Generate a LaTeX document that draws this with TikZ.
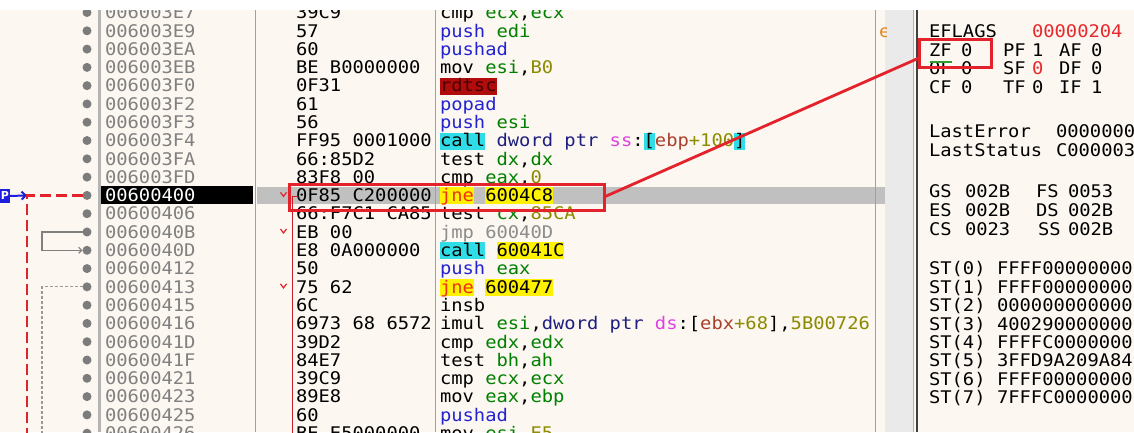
\documentclass[tikz,border=0pt]{standalone}
\usepackage{fontspec}
\usetikzlibrary{arrows.meta}
\newfontfamily\dbgmono[FakeStretch=1.08]{DejaVu Sans Mono}
\newfontfamily\dbgsans{DejaVu Sans}
\definecolor{panel}{HTML}{FCF7F0}
\definecolor{scrollg}{HTML}{EAEAEA}
\definecolor{selgray}{HTML}{C0C0C0}
\definecolor{adrgray}{HTML}{808080}
\definecolor{bulletg}{HTML}{7C7C7C}
\definecolor{sepg}{HTML}{A0A0A0}
\definecolor{barg}{HTML}{B4B4B4}
\definecolor{regg}{HTML}{008000}
\definecolor{pushb}{HTML}{2323D2}
\definecolor{navyc}{HTML}{1E1E80}
\definecolor{segm}{HTML}{E040E0}
\definecolor{numo}{HTML}{8C8A00}
\definecolor{memr}{HTML}{A8402A}
\definecolor{jner}{HTML}{F03010}
\definecolor{jmpg}{HTML}{8C8C8C}
\definecolor{rdbg}{HTML}{B00C0C}
\definecolor{rdtx}{HTML}{4A0000}
\definecolor{cyanbg}{HTML}{30DCE6}
\definecolor{yelbg}{HTML}{FFF200}
\definecolor{markred}{HTML}{E3222B}
\definecolor{eipblue}{HTML}{1E1EDC}
\definecolor{flagred}{HTML}{E8282E}
\definecolor{ulgreen}{HTML}{2E9E2E}
\definecolor{orng}{HTML}{E08A1E}
\newcommand\xG[1]{\textcolor{regg}{#1}}
\newcommand\xB[1]{\textcolor{pushb}{#1}}
\newcommand\xN[1]{\textcolor{navyc}{#1}}
\newcommand\xM[1]{\textcolor{segm}{#1}}
\newcommand\xO[1]{\textcolor{numo}{#1}}
\newcommand\xR[1]{\textcolor{memr}{#1}}
\newcommand\xJ[1]{\textcolor{jner}{#1}}
\newcommand\disrow[2]{\node[txt] (d#1) at (440,{18.8+18.29*#1}) {#2};}
\newcommand\hlbox[4]{\fill[#4] ({440+11.31*#2},{4.5+18.29*#1}) rectangle ({440+11.31*(#2+#3)},{21.5+18.29*#1});}
\begin{document}
\begin{tikzpicture}[x=1pt,y=-1pt,
  txt/.style={anchor=base west,inner sep=0pt,outer sep=0pt,font=\dbgmono\fontsize{17.4}{20}\selectfont},
  bullet/.style={circle,fill=bulletg,minimum size=9pt,inner sep=0pt,outer sep=0pt},
  redbox/.style={draw=markred,line width=3pt,inner sep=0pt,outer sep=0pt},
  redlink/.style={draw=markred,line width=2.8pt},
  reddash/.style={draw=markred,line width=2.6pt,dash pattern=on 11pt off 5pt},
  grayline/.style={draw=adrgray,line width=1.2pt},
  graydash/.style={draw=adrgray!80,line width=1.2pt,dash pattern=on 3pt off 2pt},
  jumpline/.style={draw=markred!90!black,line width=1.8pt},
  vmark/.style={draw=markred,line width=1.2pt},
  eiparrow/.style={draw=eipblue,line width=2pt,-{Straight Barb[length=4pt,width=8pt]}},
  eipbox/.style={fill=eipblue,minimum width=10pt,minimum height=14pt,inner sep=0pt,outer sep=0pt}]
\useasboundingbox (0,0) rectangle (1134,432);
% backgrounds
\fill[panel] (0,0) rectangle (1134,432);
\fill[scrollg] (885,10) rectangle (913.5,432);
\fill[selgray] (257,{12.5+18.29*10-8.5}) rectangle (885,{12.5+18.29*10+8.5});
\fill[black] (101,{12.5+18.29*10-9}) rectangle (253,{12.5+18.29*10+9});
% highlights
\hlbox{4}{0}{5}{rdbg}
\hlbox{7}{0}{4}{cyanbg}
\hlbox{7}{18}{1}{cyanbg}
\hlbox{7}{26}{1}{cyanbg}
\hlbox{10}{0}{3}{yelbg}
\hlbox{10}{4}{6}{yelbg}
\hlbox{13}{0}{4}{cyanbg}
\hlbox{13}{5}{6}{yelbg}
\hlbox{15}{0}{3}{yelbg}
\hlbox{15}{4}{6}{yelbg}
% separators
\draw[barg,line width=3pt] (99.5,10) -- (99.5,432);
\draw[sepg,line width=1pt] (255,10) -- (255,432);
\draw[sepg,line width=1pt] (435.5,10) -- (435.5,432);
\draw[sepg,line width=1pt] (875,10) -- (875,432);
\draw[sepg!80,line width=1pt] (913.5,10) -- (913.5,432);
\draw[black!75,line width=2pt] (917,10) -- (917,432);
% bullets
\foreach \i in {0,...,23} \node[bullet] (b\i) at (87,{12.5+18.29*\i}) {};
% addresses
\foreach \i/\a in {0/006003E7,1/006003E9,2/006003EA,3/006003EB,4/006003F0,5/006003F2,6/006003F3,7/006003F4,8/006003FA,9/006003FD,11/00600406,12/0060040B,13/0060040D,14/00600412,15/00600413,16/00600415,17/00600416,18/0060041D,19/0060041F,20/00600421,21/00600423,22/00600425,23/00600426}
  \node[txt,text=adrgray] (a\i) at (105,{18.8+18.29*\i}) {\a};
\node[txt,text=white] (a10) at (105,{18.8+18.29*10}) {00600400};
% bytes
\begin{scope}
\clip (256,0) rectangle (435,432);
\foreach \i/\b in {0/39C9,1/57,2/60,3/BE B0000000,4/0F31,5/61,6/56,7/FF95 0001000,8/66:85D2,9/83F8 00,10/0F85 C200000,11/66:F7C1 CA85,12/EB 00,13/E8 0A000000,14/50,15/75 62,16/6C,17/6973 68 6572,18/39D2,19/84E7,20/39C9,21/89E8,22/60,23/BE E5000000}
  \node[txt] (y\i) at (296,{18.8+18.29*\i}) {\b};
\end{scope}
% disassembly
\begin{scope}
\clip (437,0) rectangle (875,432);
\disrow{0}{cmp \xG{ecx},\xG{ecx}}
\disrow{1}{\xB{push} \xG{edi}}
\disrow{2}{\xB{pushad}}
\disrow{3}{mov \xG{esi},\xO{B0}}
\disrow{4}{\textcolor{rdtx}{rdtsc}}
\disrow{5}{\xB{popad}}
\disrow{6}{\xB{push} \xG{esi}}
\disrow{7}{call \xN{dword ptr} \xM{ss}:[\xR{ebp}\xO{+100}]}
\disrow{8}{test \xG{dx},\xG{dx}}
\disrow{9}{cmp \xG{eax},\xO{0}}
\disrow{10}{\xJ{jne} 6004C8}
\disrow{11}{test \xG{cx},\xO{85CA}}
\disrow{12}{\textcolor{jmpg}{jmp 60040D}}
\disrow{13}{call 60041C}
\disrow{14}{\xB{push} \xG{eax}}
\disrow{15}{\xJ{jne} 600477}
\disrow{16}{insb}
\disrow{17}{imul \xG{esi},\xN{dword ptr} \xM{ds}:[\xR{ebx}\xO{+68}],\xO{5B00726}}
\disrow{18}{cmp \xG{edx},\xG{edx}}
\disrow{19}{test \xG{bh},\xG{ah}}
\disrow{20}{cmp \xG{ecx},\xG{ecx}}
\disrow{21}{mov \xG{eax},\xG{ebp}}
\disrow{22}{\xB{pushad}}
\disrow{23}{mov \xG{esi},\xO{E5}}
\end{scope}
\begin{scope}
\clip (876,20) rectangle (886,45);
\node[txt,text=orng] (oe) at (879,37) {e};
\end{scope}
% registers
\begin{scope}
\clip (918,10) rectangle (1134,432);
\node[txt] (rEF) at (929,37.3) {EFLAGS};
\node[txt,text=flagred] (rEFv) at (1032,37.3) {00000204};
\node[txt] (rZF) at (929,56.3) {ZF};   \node[txt] (rZFv) at (961,56.3) {0};
\node[txt] (rPF) at (1003,56.3) {PF};  \node[txt] (rPFv) at (1032,56.3) {1};
\node[txt] (rAF) at (1059,56.3) {AF};  \node[txt] (rAFv) at (1091,56.3) {0};
\node[txt] (rOF) at (929,74.8) {OF};   \node[txt] (rOFv) at (961,74.8) {0};
\node[txt] (rSF) at (1003,74.8) {SF};  \node[txt,text=flagred] (rSFv) at (1032,74.8) {0};
\node[txt] (rDF) at (1059,74.8) {DF};  \node[txt] (rDFv) at (1091,74.8) {0};
\node[txt] (rCF) at (929,93.3) {CF};   \node[txt] (rCFv) at (961,93.3) {0};
\node[txt] (rTF) at (1003,93.3) {TF};  \node[txt] (rTFv) at (1032,93.3) {0};
\node[txt] (rIF) at (1059,93.3) {IF};  \node[txt] (rIFv) at (1091,93.3) {1};
\node[txt] (rLE) at (929,137.3) {LastError};
\node[txt] (rLEv) at (1056,137.3) {0000000};
\node[txt] (rLS) at (929,156.3) {LastStatus};
\node[txt] (rLSv) at (1056,156.3) {C000003};
\node[txt] (rGS) at (929,197.3) {GS};  \node[txt] (rGSv) at (965,197.3) {002B};
\node[txt] (rFS) at (1036,197.3) {FS}; \node[txt] (rFSv) at (1068,197.3) {0053};
\node[txt] (rES) at (929,216.3) {ES};  \node[txt] (rESv) at (965,216.3) {002B};
\node[txt] (rDS) at (1036,216.3) {DS}; \node[txt] (rDSv) at (1068,216.3) {002B};
\node[txt] (rCS) at (929,235.3) {CS};  \node[txt] (rCSv) at (965,235.3) {0023};
\node[txt] (rSS) at (1038,235.3) {SS}; \node[txt] (rSSv) at (1068,235.3) {002B};
\foreach \k/\v in {0/FFFF00000000,1/FFFF00000000,2/000000000000,3/400290000000,4/FFFFC0000000,5/3FFD9A209A84,6/FFFF00000000,7/7FFFC0000000}{
  \node[txt] (st\k) at (929,{274.8+18.4*\k}) {ST(\k)};
  \node[txt] (stv\k) at (997,{274.8+18.4*\k}) {\v};
}
\end{scope}
\draw[ulgreen,line width=2pt] (930,62) -- (952,62);
% gutter connectors
\coordinate (gx) at (42,0);
\coordinate (gbot) at (42,440);
\draw[grayline,-{Straight Barb[length=3pt,width=6pt]}] (b12.west) -- (b12.west -| gx) -- (b13.west -| gx) -- (b13.west);
\draw[graydash] (b15.west) -- (b15.west -| gx) -- (gbot);
\node[eipbox] (eip) at (5,196) {};
\begin{scope}
\clip (0,188) rectangle (10,204);
\node[font=\dbgsans\bfseries\fontsize{11}{12}\selectfont,text=white,inner sep=0pt] (eipP) at (5,195.5) {P};
\end{scope}
\coordinate (rdc) at (27,{12.5+18.29*10});
\coordinate (rdbot) at (27,440);
\draw[eiparrow] (eip.east) -- (rdc);
\draw[reddash] (b10.west) -- (rdc) -- (rdbot);
% jump markers in bytes column
\coordinate (jtxt) at (297.5,196.5);
\coordinate (jtop) at (292.5,196.5);
\coordinate (jbot) at (292.5,440);
\draw[jumpline] (jtxt) -- (jtop) -- (jbot);
\foreach \r in {10,12,15}
  \draw[vmark] (280.5,{12.5+18.29*\r-3}) -- (283.5,{12.5+18.29*\r+1}) -- (286.5,{12.5+18.29*\r-3});
% top white strip
\fill[white] (0,0) rectangle (1134,10);
% red annotation
\node[redbox,minimum width=315pt,minimum height=26pt] (jnebox) at (446.5,197) {};
\node[redbox,minimum width=72pt,minimum height=28pt] (zfbox) at (955,53) {};
\draw[redlink] (jnebox.east) -- ([yshift=-5pt]zfbox.west);
\end{tikzpicture}
\end{document}
